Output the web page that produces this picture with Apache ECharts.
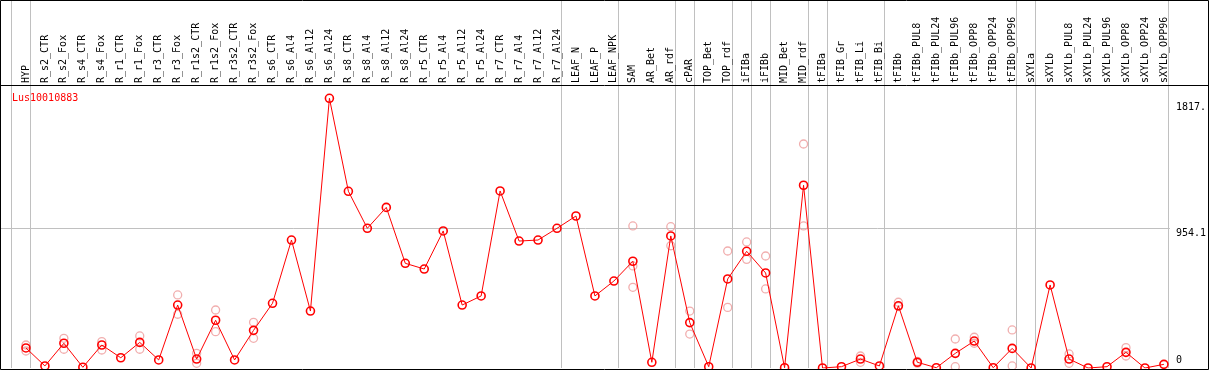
<!DOCTYPE html>
<html>
<head>
<meta charset="utf-8">
<script src="https://cdn.jsdelivr.net/npm/echarts@6/dist/echarts.min.js"></script>
<style>
html,body{margin:0;padding:0;background:#fff;}
#chart{width:1209px;height:370px;}
</style>
</head>
<body>
<div id="chart"></div>
<script>
const N = null;
const categories = ['HYP','R_s2_CTR','R_s2_Fox','R_s4_CTR','R_s4_Fox','R_r1_CTR','R_r1_Fox','R_r3_CTR','R_r3_Fox','R_r1s2_CTR','R_r1s2_Fox','R_r3s2_CTR','R_r3s2_Fox','R_s6_CTR','R_s6_Al4','R_s6_Al12','R_s6_Al24','R_s8_CTR','R_s8_Al4','R_s8_Al12','R_s8_Al24','R_r5_CTR','R_r5_Al4','R_r5_Al12','R_r5_Al24','R_r7_CTR','R_r7_Al4','R_r7_Al12','R_r7_Al24','LEAF_N','LEAF_P','LEAF_NPK','SAM','AR_Bet','AR_rdf','cPAR','TOP_Bet','TOP_rdf','iFIBa','iFIBb','MID_Bet','MID_rdf','tFIBa','tFIB_Gr','tFIB_Li','tFIB_Bi','tFIBb','tFIBb_PUL8','tFIBb_PUL24','tFIBb_PUL96','tFIBb_OPP8','tFIBb_OPP24','tFIBb_OPP96','sXYLa','sXYLb','sXYLb_PUL8','sXYLb_PUL24','sXYLb_PUL96','sXYLb_OPP8','sXYLb_OPP24','sXYLb_OPP96'];
const meanValues = [137,14,169,5,157,70,175,55,430,61,326,55,257,442,874,389,1842,1207,954,1097,715,676,936,430,492,1209,867,874,954,1038,492,594,729,39,902,310,9,608,797,649,2,1248,0,9,61,14,425,39,2,100,184,2,134,0,567,61,0,9,107,0,25];
const repHigh = [157,N,203,N,180,N,219,N,499,100,396,N,312,N,N,N,N,N,N,N,N,N,N,N,N,N,N,N,N,N,N,N,970,N,965,389,N,799,861,765,N,1530,N,N,82,N,449,45,N,198,210,N,260,N,N,96,N,N,139,N,N];
const repLow  = [116,N,128,N,123,N,128,N,367,32,248,N,203,N,N,N,N,N,N,N,N,N,N,N,N,N,N,N,N,N,N,N,551,N,835,232,N,414,742,540,N,970,N,N,39,N,420,33,N,9,169,N,14,N,N,32,N,N,82,N,N];
const repMid  = [N,N,N,N,N,N,N,N,N,N,N,N,N,N,N,N,N,N,N,N,N,N,N,N,N,N,N,N,N,N,N,N,697,N,N,N,N,N,N,N,N,N,N,N,N,N,N,N,N,N,N,N,N,N,N,N,N,N,N,N,N];
// group separators (in category-index units)
const separators = [-0.8,0.24,28.24,31.24,34.24,35.24,37.24,38.24,39.24,41.24,42.24,45.24,52.24,53.24,60.24];
const yTickValues = [954.1, 1817];
const yTickLabels = ['954.1', '1817.'];
const geneName = 'Lus10010883';

const FONT = 'DejaVu Sans Mono';
const toPts = arr => arr.map((v,i)=> v==null?null:[i,v]).filter(d=>d);
const chart = echarts.init(document.getElementById('chart'), null, {renderer:'canvas'});
const gridLeft = 1, gridRightX = 1172, gridTop = 1, gridBottomY = 368;
const pxPerIdx = 19, firstX = 26;
const pxPerUnit = 139.7/954.1;
chart.setOption({
  animation:false,
  backgroundColor:'#fff',
  title:{text:geneName,left:7,top:88,textStyle:{color:'#ff0000',fontSize:10,fontWeight:'normal',fontFamily:FONT}},
  grid:{left:gridLeft,top:gridTop,width:gridRightX-gridLeft,height:gridBottomY-gridTop,containLabel:false},
  xAxis:{
    type:'value', position:'top', offset:-85,
    min:(gridLeft-firstX)/pxPerIdx, max:(gridRightX-firstX)/pxPerIdx,
    axisLine:{show:false},
    axisTick:{show:false, customValues:separators},
    splitLine:{show:true,lineStyle:{color:'#c0c0c0',width:1}},
    axisLabel:{customValues:categories.map((c,i)=>i), formatter:v=>categories[Math.round(v)],
      rotate:90, margin:3, fontSize:10, fontFamily:FONT, color:'#000'}
  },
  yAxis:[{
    type:'value', position:'right', min:0, max:(gridBottomY-gridTop)/pxPerUnit,
    axisLine:{show:false},
    axisTick:{show:false, customValues:[954.1]},
    splitLine:{show:true,lineStyle:{color:'#c0c0c0',width:1}},
    axisLabel:{customValues:yTickValues, formatter:v=>yTickLabels[yTickValues.indexOf(v)], verticalAlign:'top',
      align:'left', margin:6, fontSize:10, fontFamily:FONT, color:'#000'}
  },{
    type:'value', position:'right', min:0, max:(gridBottomY-gridTop)/pxPerUnit,
    axisLine:{show:false}, axisTick:{show:false}, splitLine:{show:false},
    axisLabel:{customValues:[0], formatter:()=> '0', verticalAlign:'bottom', padding:[0,0,3,0],
      align:'left', margin:6, fontSize:10, fontFamily:FONT, color:'#000'}
  }],
  series:[
    {type:'scatter', data:toPts(repHigh), symbol:'circle', symbolSize:8,
      itemStyle:{color:'rgba(0,0,0,0)',borderColor:'#ee9a9a',borderWidth:1.3}},
    {type:'scatter', data:toPts(repMid), symbol:'circle', symbolSize:8,
      itemStyle:{color:'rgba(0,0,0,0)',borderColor:'#ee9a9a',borderWidth:1.3}},
    {type:'scatter', data:toPts(repLow), symbol:'circle', symbolSize:8,
      itemStyle:{color:'rgba(0,0,0,0)',borderColor:'#ee9a9a',borderWidth:1.3}},
    {type:'line', data:meanValues.map((v,i)=>[i,v]), symbol:'circle', symbolSize:8, showAllSymbol:true,
      lineStyle:{color:'#ff0000',width:1},
      itemStyle:{color:'rgba(0,0,0,0)',borderColor:'#ff0000',borderWidth:1.6}}
  ],
  graphic:[
    {type:'rect',silent:true,z:100,shape:{x:0.5,y:0.5,width:1208,height:369},style:{fill:'none',stroke:'#000',lineWidth:1}},
    {type:'line',silent:true,z:100,shape:{x1:0,y1:85.5,x2:1209,y2:85.5},style:{stroke:'#000',lineWidth:1}}
  ]
});
</script>
</body>
</html>
